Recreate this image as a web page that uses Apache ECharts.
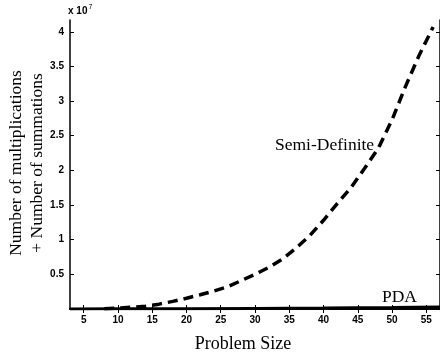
<!DOCTYPE html>
<html>
<head>
<meta charset="utf-8">
<script src="https://cdn.jsdelivr.net/npm/echarts@6/dist/echarts.min.js"></script>
<style>html,body{margin:0;padding:0;background:#fff;}#c{width:440px;height:358px;}</style>
</head>
<body>
<div id="c"></div>
<script>
// values in units of 10^7
const problemSize = [8, 10, 12, 14, 16, 18, 20, 22, 24, 26, 28, 30, 32, 34, 36, 38, 40, 42, 44, 46, 48, 50, 52, 54, 56];
const semiDefinite = [0.005, 0.012, 0.025, 0.04, 0.07, 0.11, 0.155, 0.205, 0.26, 0.32, 0.41, 0.5, 0.6, 0.72, 0.88, 1.06, 1.28, 1.52, 1.75, 2.03, 2.32, 2.73, 3.22, 3.67, 4.07];
const pdaSizes = [3, 10, 20, 30, 40, 50, 57];
const pda = [0.0, 0.002, 0.005, 0.009, 0.014, 0.022, 0.03];
const xTicks = [5, 10, 15, 20, 25, 30, 35, 40, 45, 50, 55];
const yTicks = [0.5, 1, 1.5, 2, 2.5, 3, 3.5, 4];

const chart = echarts.init(document.getElementById('c'));
const labelFont = {color: '#000', fontFamily: 'Liberation Sans, Arial, sans-serif', fontSize: 10, fontWeight: 'bold'};
const serif = 'Liberation Serif, Times New Roman, serif';
chart.setOption({
  animation: false,
  backgroundColor: '#fff',
  grid: {left: 70, top: 20, width: 374, height: 292, containLabel: false},
  xAxis: [
    {type: 'value', min: 3, max: 57, position: 'bottom',
     axisLine: {show: true, lineStyle: {color: '#000', width: 2}},
     axisTick: {show: true, inside: true, length: 4, lineStyle: {color: '#000', width: 1}, customValues: xTicks},
     axisLabel: Object.assign({show: true, margin: 6, customValues: xTicks}, labelFont),
     splitLine: {show: false},
     name: 'Problem Size', nameLocation: 'middle', nameGap: 26,
     nameTextStyle: {fontFamily: serif, fontSize: 18, color: '#000', padding: [0, 24, 0, 0]}},
    {type: 'value', min: 3, max: 57, position: 'top',
     axisLine: {show: true, lineStyle: {color: '#000', width: 1.5}},
     axisTick: {show: true, inside: true, length: 4, lineStyle: {color: '#000', width: 1}, customValues: xTicks},
     axisLabel: {show: false}, splitLine: {show: false}}
  ],
  yAxis: [
    {type: 'value', min: 0, max: 4.17, interval: 0.5, position: 'left',
     axisLine: {show: true, lineStyle: {color: '#000', width: 1.5}},
     axisTick: {show: true, inside: true, length: 4, lineStyle: {color: '#000', width: 1}, customValues: yTicks},
     axisLabel: Object.assign({show: true, margin: 6, customValues: yTicks}, labelFont),
     splitLine: {show: false}},
    {type: 'value', min: 0, max: 4.17, interval: 0.5, position: 'right',
     axisLine: {show: true, lineStyle: {color: '#000', width: 1.5}},
     axisTick: {show: true, inside: true, length: 4, lineStyle: {color: '#000', width: 1}, customValues: yTicks},
     axisLabel: {show: false}, splitLine: {show: false}}
  ],
  series: [
    {name: 'Semi-Definite', type: 'line', xAxisIndex: 0, yAxisIndex: 0, showSymbol: false,
     data: problemSize.map((x, i) => [x, semiDefinite[i]]),
     lineStyle: {color: '#000', width: 3.5, type: [10, 6], cap: 'butt'}},
    {name: 'PDA', type: 'line', xAxisIndex: 0, yAxisIndex: 0, showSymbol: false,
     data: pdaSizes.map((x, i) => [x, pda[i]]),
     lineStyle: {color: '#000', width: 3}}
  ],
  graphic: [
    {type: 'text', x: 27, y: 163, rotation: Math.PI / 2,
     style: {text: 'Number of multiplications\n+ Number of summations', font: '17.5px ' + serif,
       fill: '#000', align: 'center', verticalAlign: 'middle', lineHeight: 21}},
    {type: 'text', x: 275, y: 145,
     style: {text: 'Semi-Definite', font: '17.5px ' + serif, fill: '#000', align: 'left', verticalAlign: 'middle'}},
    {type: 'text', x: 382, y: 297,
     style: {text: 'PDA', font: '17.5px ' + serif, fill: '#000', align: 'left', verticalAlign: 'middle'}},
    {type: 'text', x: 68, y: 11,
     style: {text: '{a|x 10}{b|7}', verticalAlign: 'middle',
       rich: {a: {fontFamily: 'Liberation Sans, Arial', fontSize: 10, fontWeight: 'bold', fill: '#000'},
              b: {fontFamily: 'Liberation Sans, Arial', fontSize: 7, fill: '#000', verticalAlign: 'top', padding: [0, 0, 8, 1]}}}}
  ]
});
</script>
</body>
</html>
